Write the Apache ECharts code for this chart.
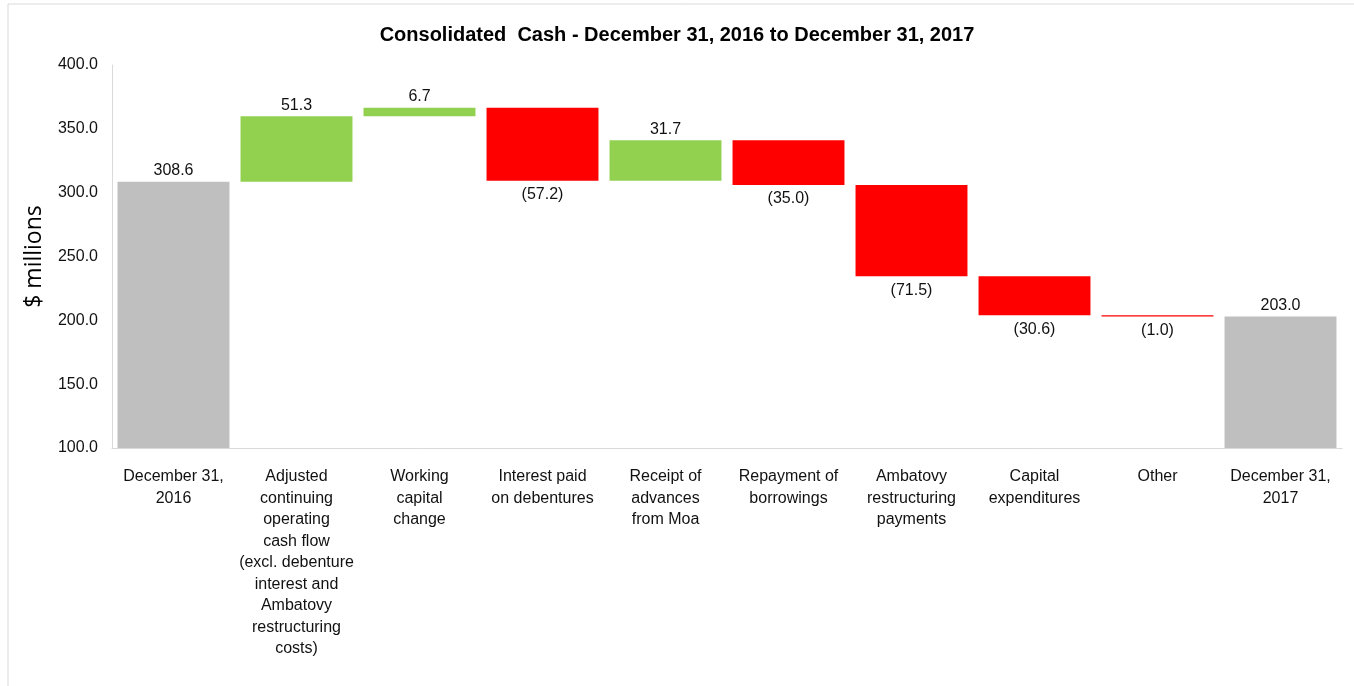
<!DOCTYPE html>
<html>
<head>
<meta charset="utf-8">
<script src="https://cdn.jsdelivr.net/npm/echarts@6/dist/echarts.min.js"></script>
<style>
  html, body { margin: 0; padding: 0; background: #fff; }
  #chart { width: 1354px; height: 686px; }
</style>
</head>
<body>
<div id="chart"></div>
<script>
// categories along the x axis
const categories = [
    'December 31,\n2016',
    'Adjusted\ncontinuing\noperating\ncash flow\n(excl. debenture\ninterest and\nAmbatovy\nrestructuring\ncosts)',
    'Working\ncapital\nchange',
    'Interest paid\non debentures',
    'Receipt of\nadvances\nfrom Moa',
    'Repayment of\nborrowings',
    'Ambatovy\nrestructuring\npayments',
    'Capital\nexpenditures',
    'Other',
    'December 31,\n2017'
];
// opening / closing balances ($ millions)
const openingCash = 308.6;
const closingCash = 203.0;
// changes between them, one per middle category
const changes = [51.3, 6.7, -57.2, 31.7, -35.0, -71.5, -30.6, -1.0];

const yTicks = {min: 100, max: 400, interval: 50};

const grey = '#bfbfbf';
const green = '#92d050';
const red = '#ff0000';
const fontFamily = '"Liberation Sans", Arial, sans-serif';

// build the invisible base and the visible part of each bar
let baseData = ['-'];
let barData = [{
    value: openingCash,
    itemStyle: {color: grey},
    label: {position: 'top', formatter: openingCash.toFixed(1)}
}];
let running = openingCash;
changes.forEach(function(change) {
    let low = change >= 0 ? running : running + change;
    baseData.push(low);
    barData.push({
        value: Math.abs(change),
        itemStyle: {color: change >= 0 ? green : red},
        label: change >= 0 ? {
            position: 'top',
            formatter: change.toFixed(1)
        } : {
            position: 'bottom',
            distance: 6,
            formatter: '(' + Math.abs(change).toFixed(1) + ')'
        }
    });
    running += change;
});
baseData.push('-');
barData.push({
    value: closingCash,
    itemStyle: {color: grey},
    label: {position: 'top', formatter: closingCash.toFixed(1)}
});

const chart = echarts.init(document.getElementById('chart'));
const option = {
    animation: false,
    textStyle: {fontFamily: fontFamily},
    graphic: [{
        type: 'rect',
        shape: {x: 8, y: 4, width: 1400, height: 760},
        style: {fill: 'none', stroke: '#d9d9d9', lineWidth: 1},
        silent: true,
        z: -10
    }],
    title: {
        text: 'Consolidated  Cash - December 31, 2016 to December 31, 2017',
        left: 'center',
        top: 20,
        textStyle: {
            fontFamily: fontFamily,
            fontSize: 20,
            fontWeight: 'bold',
            color: '#000'
        }
    },
    grid: {
        left: 112,
        right: 12,
        top: 65,
        bottom: 238
    },
    xAxis: {
        type: 'category',
        data: categories,
        axisLine: {lineStyle: {color: '#d9d9d9'}},
        axisTick: {show: false},
        axisLabel: {
            interval: 0,
            margin: 18,
            color: '#111',
            fontSize: 16,
            lineHeight: 21.5,
            fontFamily: fontFamily
        }
    },
    yAxis: {
        type: 'value',
        min: yTicks.min,
        max: yTicks.max,
        interval: yTicks.interval,
        name: '$ millions',
        nameLocation: 'middle',
        nameGap: 66,
        nameTextStyle: {
            fontFamily: '"Open Sans", sans-serif',
            fontSize: 23,
            color: '#000'
        },
        axisLine: {show: true, lineStyle: {color: '#d9d9d9'}},
        axisTick: {show: false},
        splitLine: {show: false},
        axisLabel: {
            margin: 14,
            color: '#111',
            fontSize: 16,
            fontFamily: fontFamily,
            formatter: function(v) {
                return v.toFixed(1);
            }
        }
    },
    series: [
        {
            type: 'bar',
            stack: 'cash',
            data: baseData,
            itemStyle: {color: 'transparent'},
            silent: true,
            barCategoryGap: '9%'
        },
        {
            type: 'bar',
            stack: 'cash',
            data: barData,
            barCategoryGap: '9%',
            label: {
                show: true,
                color: '#111',
                fontSize: 16,
                fontFamily: fontFamily,
                distance: 3
            }
        }
    ]
};
chart.setOption(option);
</script>
</body>
</html>
